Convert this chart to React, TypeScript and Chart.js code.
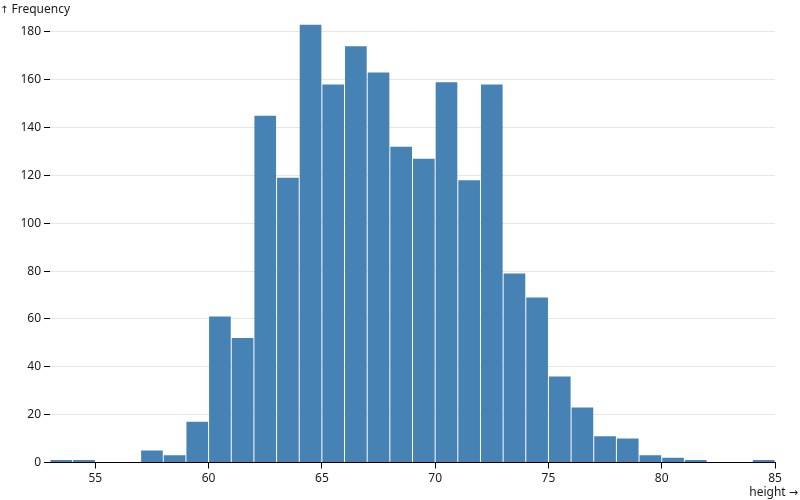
import { useEffect, useRef } from "react"
import { Chart, registerables } from "chart.js"

Chart.register(...registerables)

// histogram bins (lower edge of each 1-unit bin) and counts
const binStarts = [53, 54, 55, 56, 57, 58, 59, 60, 61, 62, 63, 64, 65, 66, 67, 68, 69, 70, 71, 72, 73, 74, 75, 76, 77, 78, 79, 80, 81, 82, 83, 84]
const counts = [1, 1, 0, 0, 5, 3, 17, 61, 52, 145, 119, 183, 158, 174, 163, 132, 127, 159, 118, 158, 79, 69, 36, 23, 11, 10, 3, 2, 1, 0, 0, 1]

const xTicks = [55, 60, 65, 70, 75, 80, 85]
const yTicks = [0, 20, 40, 60, 80, 100, 120, 140, 160, 180]

const FONT = "'Noto Sans', sans-serif"

export default function App() {
  const canvasRef = useRef<HTMLCanvasElement>(null)
  const chartRef = useRef<Chart | null>(null)

  useEffect(() => {
    if (!canvasRef.current) return
    if (chartRef.current) chartRef.current.destroy()

    chartRef.current = new Chart(canvasRef.current, {
      type: "bar",
      data: {
        datasets: [
          {
            label: "Frequency",
            data: binStarts.map((x, i) => ({ x: x + 0.5, y: counts[i] })),
            backgroundColor: "#4682b4",
            borderWidth: 0,
            barPercentage: 0.956,
            categoryPercentage: 1,
            grouped: false,
          },
        ],
      },
      options: {
        responsive: false,
        animation: false,
        layout: { padding: { top: 20, right: 25, left: 0, bottom: 0 } },
        plugins: {
          legend: { display: false },
          tooltip: { enabled: false },
        },
        scales: {
          x: {
            type: "linear",
            min: 53,
            max: 85,
            offset: false,
            afterBuildTicks: (scale) => {
              scale.ticks = xTicks.map((v) => ({ value: v }))
            },
            afterFit: (scale) => {
              scale.height = 37.5
            },
            grid: {
              offset: false,
              drawOnChartArea: false,
              drawTicks: true,
              tickLength: 6,
              tickColor: "#000",
            },
            border: { display: true, color: "#000", width: 1 },
            ticks: {
              color: "#1a1a1a",
              padding: 3,
              maxRotation: 0,
              font: { family: FONT, size: 12 },
            },
          },
          y: {
            min: 0,
            max: 185,
            afterBuildTicks: (scale) => {
              scale.ticks = yTicks.map((v) => ({ value: v }))
            },
            afterFit: (scale) => {
              scale.width = 50
            },
            grid: {
              color: (ctx) => (ctx.tick && ctx.tick.value === 0 ? "#000" : "#e6e6e6"),
              drawTicks: true,
              tickLength: 6,
              tickColor: "#000",
            },
            border: { display: false },
            ticks: {
              color: "#1a1a1a",
              padding: 3,
              font: { family: FONT, size: 12 },
            },
          },
        },
      },
    })

    return () => {
      if (chartRef.current) {
        chartRef.current.destroy()
        chartRef.current = null
      }
    }
  }, [])

  return (
    <div style={{ position: "fixed", left: 0, top: 0, width: 800, height: 500, background: "#fff", fontFamily: FONT }}>
      <canvas ref={canvasRef} width={800} height={500} style={{ display: "block" }}></canvas>
      <span style={{ position: "absolute", left: 0, top: 1, fontSize: 12, lineHeight: "16px", color: "#1a1a1a" }}>
        <span style={{ fontFamily: "'DejaVu Sans', sans-serif", fontSize: 10 }}>↑</span> Frequency
      </span>
      <span style={{ position: "absolute", right: 2, top: 484, fontSize: 12, lineHeight: "16px", color: "#1a1a1a" }}>
        height <span style={{ fontFamily: "'DejaVu Sans', sans-serif", fontSize: 11 }}>→</span>
      </span>
    </div>
  )
}
